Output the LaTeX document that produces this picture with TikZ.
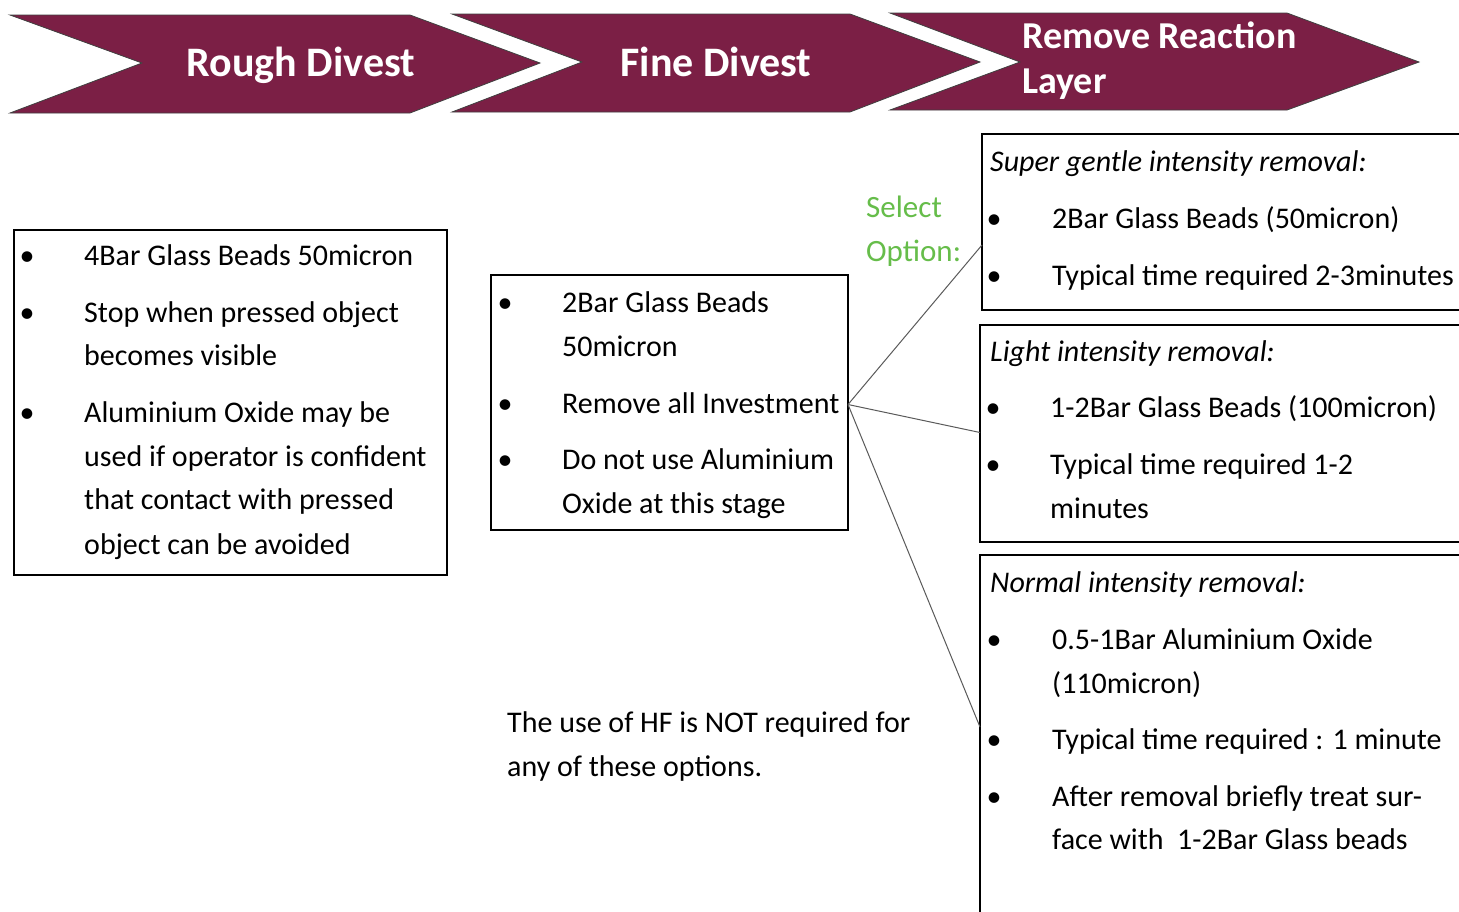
\documentclass[tikz,border=0pt]{standalone}
\usepackage{fontspec}
\setmainfont{Carlito}
\usetikzlibrary{calc}
\definecolor{maroon}{RGB}{123,31,69}
\definecolor{optgreen}{RGB}{102,189,74}
\definecolor{linkgray}{RGB}{90,90,90}
\tikzset{
  chev/.style={fill=maroon, draw=black!75, line width=0.8pt},
  chevtext/.style={text=white, font=\fontsize{42}{48}\selectfont\bfseries, inner sep=0pt, anchor=base},
  chevtextsm/.style={text=white, font=\fontsize{38}{44}\selectfont\bfseries, inner sep=0pt, anchor=base west},
  boxst/.style={draw=black, line width=1.2pt, inner sep=0pt, outer sep=0pt, anchor=north west},
  txt/.style={font=\fontsize{30}{36}\selectfont, inner sep=0pt, anchor=base west},
  ttl/.style={font=\fontsize{30}{36}\selectfont\itshape, inner sep=0pt, anchor=base west},
  bul/.style={font=\fontsize{30}{36}\selectfont, inner sep=0pt, anchor=base},
  grn/.style={font=\fontsize{31}{36}\selectfont, text=optgreen, inner sep=0pt, anchor=base west},
  link/.style={draw=linkgray, line width=1pt}
}
\begin{document}
\begin{tikzpicture}[x=1pt,y=-1pt]
\clip (0,0) rectangle (1459,911);
\fill[white] (0,0) rectangle (1459,911);
% chevrons
\path[chev] (10,15) -- (410,15) -- (540,63) -- (410,113) -- (10,113) -- (142,63) -- cycle;
\path[chev] (452,14) -- (850,14) -- (980,62) -- (850,112) -- (452,112) -- (582,62) -- cycle;
\path[chev] (890,13) -- (1287,13) -- (1419,62) -- (1287,110) -- (890,110) -- (1020,62) -- cycle;
\node[chevtext] (c1) at (301,76) {Rough Divest};
\node[chevtext] (c2) at (716,76) {Fine Divest};
\node[chevtextsm] (c3a) at (1022,48) {Remove Reaction};
\node[chevtextsm] (c3b) at (1022,93) {Layer};
% boxes
\node[boxst, minimum width=433pt, minimum height=345pt] (b1) at (14,230) {};
\node[boxst, minimum width=357pt, minimum height=255pt] (b2) at (491,275) {};
\node[boxst, minimum width=520pt, minimum height=176pt] (b3) at (982,134) {};
\node[boxst, minimum width=520pt, minimum height=217pt] (b4) at (980,325) {};
\node[boxst, minimum width=520pt, minimum height=420pt] (b5) at (980,555) {};
% connectors
\coordinate (e3) at ([yshift=-23pt]b3.west);
\coordinate (e4) at ([yshift=1pt]b4.west);
\coordinate (e5) at ([yshift=38pt]b5.west);
\coordinate (s2) at ([yshift=-2pt]b2.east);
\draw[link] (s2) -- (e3);
\draw[link] (s2) -- (e4);
\draw[link] (s2) -- (e5);
% box 1 text
\node[bul] (p1) at (27,265) {\textbullet};
\node[txt] (t11) at (84,265) {4Bar Glass Beads 50micron};
\node[bul] (p2) at (27,322) {\textbullet};
\node[txt] (t12) at (84,322) {Stop when pressed object};
\node[txt] (t13) at (84,365) {becomes visible};
\node[bul] (p3) at (27,422) {\textbullet};
\node[txt] (t14) at (84,422) {Aluminium Oxide may be};
\node[txt] (t15) at (84,466) {used if operator is confident};
\node[txt] (t16) at (84,509) {that contact with pressed};
\node[txt] (t17) at (84,554) {object can be avoided};
% box 2 text
\node[bul] (q1) at (505,312) {\textbullet};
\node[txt] (t21) at (562,312) {2Bar Glass Beads};
\node[txt] (t22) at (562,356) {50micron};
\node[bul] (q2) at (505,413) {\textbullet};
\node[txt] (t23) at (562,413) {Remove all Investment};
\node[bul] (q3) at (505,469) {\textbullet};
\node[txt] (t24) at (562,469) {Do not use Aluminium};
\node[txt] (t25) at (562,513) {Oxide at this stage};
% select option
\node[grn] (s1) at (866,217) {Select};
\node[grn] (s2t) at (866,261) {Option:};
% box 3
\node[ttl] (t30) at (990,171) {Super gentle intensity removal:};
\node[bul] (r1) at (994,228) {\textbullet};
\node[txt] (t31) at (1052,228) {2Bar Glass Beads (50micron)};
\node[bul] (r2) at (994,285) {\textbullet};
\node[txt] (t32) at (1052,285) {Typical time required 2-3minutes};
% box 4
\node[ttl] (t40) at (990,361) {Light intensity removal:};
\node[bul] (u1) at (993,417) {\textbullet};
\node[txt] (t41) at (1050,417) {1-2Bar Glass Beads (100micron)};
\node[bul] (u2) at (993,474) {\textbullet};
\node[txt] (t42) at (1050,474) {Typical time required 1-2};
\node[txt] (t43) at (1050,518) {minutes};
% box 5
\node[ttl] (t50) at (990,592) {Normal intensity removal:};
\node[bul] (v1) at (994,649) {\textbullet};
\node[txt] (t51) at (1052,649) {0.5-1Bar Aluminium Oxide};
\node[txt] (t52) at (1052,693) {(110micron)};
\node[bul] (v2) at (994,749) {\textbullet};
\node[txt] (t53) at (1052,749) {Typical time required : 1 minute};
\node[bul] (v3) at (994,806) {\textbullet};
\node[txt] (t54) at (1052,806) {After removal briefly treat sur-};
\node[txt] (t55) at (1052,849) {face with\ \ 1-2Bar Glass beads};
% HF note
\node[txt] (h1) at (507,732) {The use of HF is NOT required for};
\node[txt] (h2) at (507,776) {any of these options.};
\end{tikzpicture}
\end{document}
